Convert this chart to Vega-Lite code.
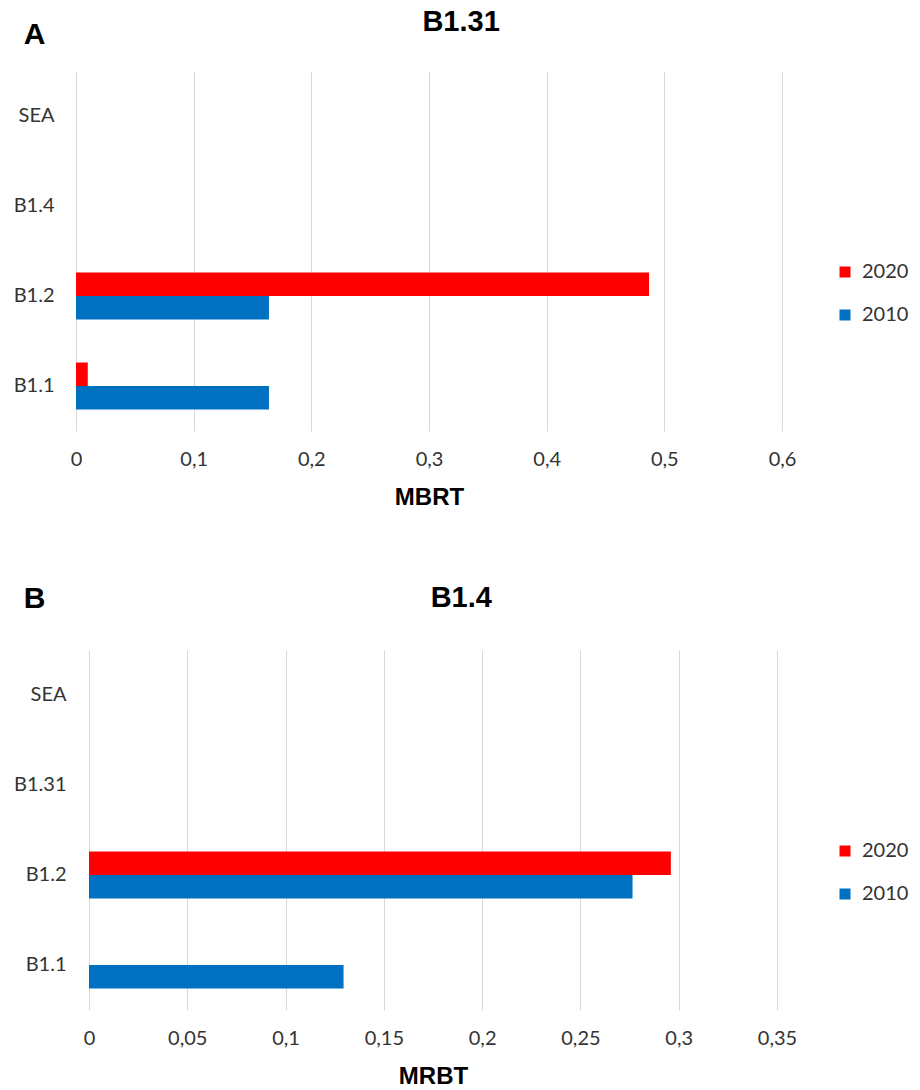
{
  "$schema": "https://vega.github.io/schema/vega-lite/v6.json",
  "padding": {"left": 13, "top": 8, "right": 5, "bottom": 0},
  "background": "white",
  "datasets": {
    "a": [
      {"cat": "SEA", "year": "2020", "value": 0},
      {"cat": "SEA", "year": "2010", "value": 0},
      {"cat": "B1.4", "year": "2020", "value": 0},
      {"cat": "B1.4", "year": "2010", "value": 0},
      {"cat": "B1.2", "year": "2020", "value": 0.487},
      {"cat": "B1.2", "year": "2010", "value": 0.164},
      {"cat": "B1.1", "year": "2020", "value": 0.010},
      {"cat": "B1.1", "year": "2010", "value": 0.164}
    ],
    "b": [
      {"cat": "SEA", "year": "2020", "value": 0},
      {"cat": "SEA", "year": "2010", "value": 0},
      {"cat": "B1.31", "year": "2020", "value": 0},
      {"cat": "B1.31", "year": "2010", "value": 0},
      {"cat": "B1.2", "year": "2020", "value": 0.296},
      {"cat": "B1.2", "year": "2010", "value": 0.2765},
      {"cat": "B1.1", "year": "2020", "value": 0},
      {"cat": "B1.1", "year": "2010", "value": 0.1295}
    ]
  },
  "spacing": 74,
  "resolve": {"scale": {"color": "independent", "x": "independent", "y": "independent", "yOffset": "independent"}},
  "vconcat": [
    {
      "width": 706,
      "height": 360,
      "title": {"text": "B1.31", "offset": -18},
      "data": {"name": "a"},
      "mark": {"type": "bar"},
      "encoding": {
        "y": {
          "field": "cat", "type": "nominal",
          "scale": {"domain": ["SEA", "B1.4", "B1.2", "B1.1"], "paddingInner": 0.478, "paddingOuter": 0.239},
          "axis": {"title": "A", "titleX": -42, "titleY": -37, "labelPadding": 22}
        },
        "yOffset": {
          "field": "year", "type": "nominal",
          "scale": {"domain": ["2020", "2010"], "paddingInner": 0, "paddingOuter": 0}
        },
        "x": {
          "field": "value", "type": "quantitative",
          "scale": {"domain": [0, 0.6], "nice": false, "zero": true},
          "axis": {"title": "MBRT", "values": [0, 0.1, 0.2, 0.3, 0.4, 0.5, 0.6]}
        },
        "color": {
          "field": "year", "type": "nominal",
          "scale": {"domain": ["2020", "2010"], "range": ["#FF0000", "#0070C0"]},
          "legend": {"orient": "none", "legendX": 759, "legendY": 191}
        }
      }
    },
    {
      "width": 701,
      "height": 360,
      "title": {"text": "B1.4", "offset": -30},
      "data": {"name": "b"},
      "mark": {"type": "bar"},
      "encoding": {
        "y": {
          "field": "cat", "type": "nominal",
          "scale": {"domain": ["SEA", "B1.31", "B1.2", "B1.1"], "paddingInner": 0.478, "paddingOuter": 0.239},
          "axis": {"title": "B", "titleX": -42, "titleY": -52, "labelPadding": 10}
        },
        "yOffset": {
          "field": "year", "type": "nominal",
          "scale": {"domain": ["2020", "2010"], "paddingInner": 0, "paddingOuter": 0}
        },
        "x": {
          "field": "value", "type": "quantitative",
          "scale": {"domain": [0, 0.35], "nice": false, "zero": true, "range": [13, 701]},
          "axis": {"title": "MRBT", "values": [0, 0.05, 0.1, 0.15, 0.2, 0.25, 0.3, 0.35]}
        },
        "color": {
          "field": "year", "type": "nominal",
          "scale": {"domain": ["2020", "2010"], "range": ["#FF0000", "#0070C0"]},
          "legend": {"orient": "none", "legendX": 759, "legendY": 191}
        }
      }
    }
  ],
  "config": {
    "view": {"stroke": null},
    "font": "Lato",
    "title": {"font": "Liberation Sans", "fontWeight": "bold", "fontSize": 29, "color": "#000000", "anchor": "middle", "frame": "bounds"},
    "axisX": {
      "domain": false, "ticks": false, "grid": true, "gridColor": "#D9D9D9", "gridWidth": 1,
      "labelFont": "Lato", "labelFontSize": 20, "labelColor": "#333333", "labelPadding": 18, "labelFlush": false,
      "labelExpr": "replace(format(datum.value, '~g'), '.', ',')",
      "titleFont": "Liberation Sans", "titleFontWeight": "bold", "titleFontSize": 24, "titleColor": "#000000", "titlePadding": 16
    },
    "axisY": {
      "domain": false, "ticks": false, "grid": false,
      "labelFont": "Lato", "labelFontSize": 20, "labelColor": "#333333",
      "titleFont": "Liberation Sans", "titleFontWeight": "bold", "titleFontSize": 30, "titleColor": "#000000",
      "titleAngle": 0, "titleAlign": "center", "titleBaseline": "middle"
    },
    "legend": {
      "title": null, "symbolType": "square", "symbolSize": 121, "symbolStrokeWidth": 0,
      "labelFont": "Lato", "labelFontSize": 20, "labelColor": "#333333", "labelOffset": 7, "rowPadding": 23
    }
  }
}
